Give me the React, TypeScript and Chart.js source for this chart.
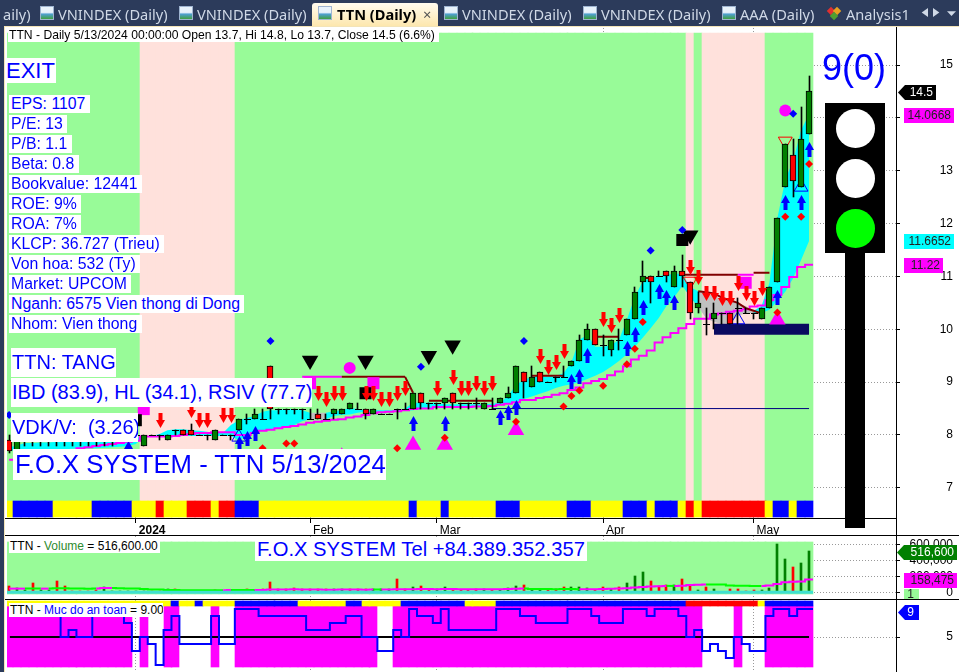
import React, { useEffect, useRef } from "react";
import { Chart, registerables } from "chart.js";

Chart.register(...registerables);

// ---------- data ----------
const opens = [
  7.9, 7.7, 7.9, 7.9, 7.9, 7.9, 7.9, 7.9, 7.9, 7.9,
  7.9, 7.9, 7.9, 7.9, 8.0, 8.0, 8.0, 7.8, 8.0, 8.0,
  7.9, 8.1, 8.1, 8.1, 8.0, 8.0, 7.9, 8.0, 8.0, 8.1,
  8.3, 8.3, 8.3, 9.3, 8.5, 8.5, 8.5, 8.5, 8.3, 8.4,
  8.3, 8.4, 8.4, 8.5, 8.5, 8.5, 8.4, 8.4, 8.4, 8.5,
  8.5, 8.5, 8.8, 8.6, 8.6, 8.6, 8.8, 8.6, 8.6, 8.6,
  8.5, 8.5, 8.6, 8.7, 8.8, 9.2, 8.9, 9.2, 9.0, 9.1,
  9.1, 9.3, 9.4, 9.8, 10.0, 9.7, 9.6, 9.8, 9.9, 10.2,
  10.9, 11.0, 11.0, 11.1, 10.8, 11.1, 10.9, 10.4, 10.1, 10.2,
  10.3, 10.3, 10.4, 10.3, 10.3, 10.2, 10.4, 10.9, 12.7, 13.3,
  12.7, 13.7,
];
const closes = [
  7.7, 7.9, 7.9, 7.9, 7.9, 7.9, 7.9, 7.9, 7.9, 7.9,
  7.9, 7.9, 7.9, 7.9, 8.0, 8.0, 8.0, 8.0, 8.0, 8.0,
  8.0, 8.1, 8.0, 8.0, 8.0, 8.0, 8.1, 8.0, 8.0, 8.3,
  8.3, 8.4, 8.3, 8.5, 8.5, 8.5, 8.5, 8.5, 8.3, 8.3,
  8.3, 8.5, 8.5, 8.6, 8.5, 8.4, 8.5, 8.4, 8.4, 8.5,
  8.5, 8.8, 8.6, 8.6, 8.6, 8.7, 8.6, 8.6, 8.6, 8.6,
  8.6, 8.5, 8.7, 8.8, 9.3, 9.0, 9.1, 9.0, 9.0, 9.1,
  9.1, 9.4, 9.8, 10.0, 9.7, 9.7, 9.8, 9.8, 10.2, 10.7,
  11.0, 10.9, 11.0, 11.0, 11.1, 11.0, 10.3, 10.5, 10.1, 10.3,
  10.3, 10.1, 10.4, 10.3, 10.3, 10.4, 10.8, 12.1, 13.5, 12.8,
  13.6, 14.5,
];
const highs = [
  8.0, 7.9, 7.9, 7.9, 7.9, 7.9, 7.9, 7.9, 7.9, 7.9,
  7.9, 7.9, 7.9, 7.9, 8.0, 8.0, 8.0, 8.0, 8.0, 8.0,
  8.0, 8.1, 8.1, 8.2, 8.0, 8.0, 8.1, 8.0, 8.0, 8.3,
  8.4, 8.5, 8.5, 9.3, 8.5, 8.5, 8.5, 8.5, 8.5, 8.5,
  8.4, 8.5, 8.5, 8.6, 8.6, 8.5, 8.5, 8.4, 8.4, 8.5,
  8.6, 8.8, 8.8, 8.6, 8.6, 8.7, 8.8, 8.6, 8.6, 8.7,
  8.6, 8.7, 8.7, 8.9, 9.3, 9.2, 9.3, 9.2, 9.0, 9.1,
  9.3, 9.4, 9.9, 10.1, 10.0, 9.9, 9.8, 10.0, 10.2, 10.8,
  11.3, 11.0, 11.1, 11.1, 11.2, 11.4, 10.9, 10.7, 10.4, 10.5,
  10.3, 10.3, 10.6, 10.4, 10.3, 10.4, 10.8, 12.1, 13.5, 13.6,
  14.2, 14.8,
];
const lows = [
  7.65, 7.7, 7.8, 7.8, 7.8, 7.8, 7.8, 7.8, 7.8, 7.8,
  7.8, 7.8, 7.8, 7.8, 7.9, 7.9, 7.9, 7.8, 8.0, 7.9,
  7.9, 8.0, 8.0, 8.0, 8.0, 7.9, 7.9, 8.0, 7.9, 8.1,
  8.2, 8.3, 8.3, 8.3, 8.4, 8.4, 8.4, 8.3, 8.3, 8.3,
  8.3, 8.3, 8.4, 8.5, 8.5, 8.3, 8.4, 8.4, 8.4, 8.3,
  8.5, 8.5, 8.5, 8.5, 8.5, 8.5, 8.5, 8.5, 8.5, 8.5,
  8.5, 8.5, 8.6, 8.7, 8.8, 8.7, 8.9, 9.0, 9.0, 9.0,
  9.1, 9.3, 9.4, 9.8, 9.7, 9.5, 9.5, 9.6, 9.9, 10.2,
  10.7, 10.5, 11.0, 10.9, 10.8, 10.8, 10.2, 10.3, 9.9, 10.0,
  10.1, 10.1, 10.1, 10.3, 10.2, 10.2, 10.4, 10.9, 12.7, 12.5,
  12.7, 13.7,
];
const cloudTop = [
  7.77, 7.8, 7.85, 7.85, 7.86, 7.86, 7.87, 7.87, 7.89, 7.89,
  7.89, 7.9, 7.9, 7.9, 7.91, 7.91, 7.94, 7.98, 7.98, 8.02,
  8.09, 8.11, 8.11, 8.09, 8.08, 8.06, 8.04, 8.04, 8.19, 8.28,
  8.32, 8.36, 8.44, 8.47, 8.47, 8.49, 8.49, 8.47, 8.42, 8.42,
  8.42, 8.45, 8.47, 8.51, 8.49, 8.47, 8.47, 8.47, 8.47, 8.47,
  8.5, 8.61, 8.61, 8.61, 8.61, 8.58, 8.58, 8.58, 8.58, 8.58,
  8.58, 8.59, 8.61, 8.74, 8.95, 9.04, 9.1, 9.1, 9.1, 9.12,
  9.17, 9.38, 9.8, 9.89, 9.67, 9.67, 9.7, 9.8, 10.18, 10.61,
  10.91, 10.97, 11.01, 11.03, 11.05, 11.05, 10.8, 10.72, 10.69, 10.63,
  10.57, 10.54, 10.48, 10.44, 10.35, 10.44, 10.88, 12.1, 12.83, 13.2,
  13.77, 14.07,
];
const cloudBottom = [
  7.7, 7.71, 7.72, 7.72, 7.72, 7.73, 7.73, 7.73, 7.74, 7.74,
  7.75, 7.75, 7.76, 7.77, 7.78, 7.79, 7.83, 7.96, 7.96, 7.96,
  7.96, 7.97, 7.98, 7.98, 7.98, 7.98, 7.98, 7.98, 7.98, 7.9,
  7.98, 8.04, 8.08, 8.11, 8.13, 8.15, 8.19, 8.26, 8.3, 8.3,
  8.3, 8.36, 8.38, 8.39, 8.42, 8.44, 8.44, 8.44, 8.44, 8.45,
  8.46, 8.47, 8.49, 8.51, 8.52, 8.53, 8.53, 8.53, 8.53, 8.53,
  8.53, 8.53, 8.57, 8.59, 8.62, 8.68, 8.73, 8.78, 8.83, 8.89,
  8.93, 8.96, 9.0, 9.06, 9.12, 9.19, 9.29, 9.4, 9.53, 9.67,
  9.84, 10.02, 10.21, 10.44, 10.61, 10.82, 10.61, 10.42, 10.21, 10.14,
  10.1, 10.12, 10.25, 10.31, 10.31, 10.31, 10.37, 10.54, 10.71, 10.97,
  11.31, 11.67,
];
const trendStop = [
  7.53, 7.53, 7.53, 7.55, 7.58, 7.6, 7.62, 7.65, 7.68, 7.75,
  7.77, 7.79, 7.81, 7.83, 7.85, 7.87, 7.89, 7.97, 7.97, 7.97,
  7.97, 7.98, 8.0, 8.02, 8.04, 8.04, 8.05, 8.05, 8.05, 8.0,
  8.0, 8.04, 8.08, 8.1, 8.13, 8.15, 8.17, 8.2, 8.23, 8.25,
  8.27, 8.29, 8.3, 8.33, 8.35, 8.38, 8.41, 8.43, 8.44, 8.45,
  8.47, 8.49, 8.5, 8.5, 8.53, 8.53, 8.53, 8.53, 8.53, 8.54,
  8.54, 8.55, 8.57, 8.59, 8.62, 8.66, 8.66, 8.7, 8.72, 8.76,
  8.79, 8.85, 8.9, 8.98, 9.02, 9.06, 9.13, 9.2, 9.3, 9.43,
  9.5, 9.6, 9.75, 9.85, 9.93, 10.02, 10.1, 10.2, 10.2, 10.28,
  10.3, 10.33, 10.35, 10.38, 10.43, 10.45, 10.55, 10.65, 10.8, 10.99,
  11.18, 11.22,
];
const volumes = [
  75000, 50000, 29000, 120000, 29000, 29000, 142000, 75000, 21000, 17000,
  17000, 25000, 62000, 21000, 21000, 17000, 17000, 17000, 17000, 17000,
  45000, 42000, 21000, 17000, 12000, 21000, 25000, 17000, 29000, 33000,
  42000, 25000, 42000, 129000, 37000, 37000, 54000, 42000, 42000, 37000,
  37000, 37000, 37000, 37000, 42000, 42000, 37000, 37000, 46000, 167000,
  46000, 62000, 75000, 37000, 37000, 71000, 37000, 29000, 29000, 37000,
  37000, 29000, 29000, 50000, 79000, 87000, 37000, 30000, 37000, 37000,
  71000, 67000, 62000, 50000, 29000, 71000, 46000, 62000, 117000, 204000,
  254000, 142000, 79000, 87000, 87000, 162000, 87000, 25000, 67000, 37000,
  5000, 37000, 37000, 12000, 25000, 29000, 50000, 604000, 417000, 312000,
  367000, 516600,
];
const volumeAverage = [
  46000, 46000, 46000, 48000, 46000, 46000, 50000, 52000, 48000, 46000,
  44000, 46000, 54000, 54000, 50000, 48000, 46000, 40000, 36000, 34000,
  30000, 28000, 26000, 25000, 25000, 25000, 25000, 27000, 29000, 28000,
  30000, 28000, 30000, 36000, 36000, 36000, 38000, 36000, 34000, 34000,
  32000, 32000, 34000, 34000, 34000, 33000, 36000, 34000, 34000, 38000,
  38000, 38000, 40000, 40000, 38000, 42000, 40000, 38000, 38000, 38000,
  38000, 38000, 38000, 40000, 44000, 46000, 42000, 42000, 40000, 38000,
  42000, 40000, 38000, 38000, 38000, 42000, 44000, 46000, 52000, 60000,
  65000, 72000, 75000, 80000, 80000, 82000, 90000, 95000, 96000, 96000,
  96000, 84000, 83000, 83000, 80000, 80000, 85000, 105000, 125000, 133000,
  135000, 158475,
];
const volumeUp = [
  0, 1, 1, 0, 1, 1, 0, 0, 0, 0,
  0, 0, 1, 1, 1, 1, 1, 1, 0, 0,
  1, 0, 0, 1, 1, 0, 0, 0, 0, 1,
  0, 1, 0, 0, 0, 0, 0, 0, 0, 0,
  0, 1, 1, 0, 0, 0, 1, 1, 1, 0,
  0, 1, 0, 0, 1, 1, 0, 0, 0, 0,
  1, 0, 1, 1, 1, 0, 1, 1, 0, 0,
  0, 1, 1, 1, 0, 0, 1, 0, 1, 1,
  1, 0, 0, 0, 1, 0, 0, 1, 0, 1,
  1, 0, 0, 0, 0, 1, 1, 1, 1, 0,
  1, 1,
];
const safetyLevel = [
  9, 8, 8, 8, 8, 8, 8, 5, 6, 5,
  5, 8, 8, 8, 8, 7, 3, 5, 4, 1,
  6, 8, 4, 4, 4, 4, 8, 4, 4, 9,
  9, 9, 8, 8, 8, 8, 8, 8, 6, 6,
  6, 7, 7, 8, 8, 5, 5, 3, 3, 6,
  5, 9, 8, 8, 7, 9, 6, 6, 6, 6,
  6, 6, 9, 9, 9, 8, 8, 7, 7, 7,
  7, 9, 9, 9, 8, 7, 7, 7, 9, 9,
  9, 8, 9, 9, 9, 8, 5, 6, 3, 4,
  3, 2, 5, 4, 3, 3, 8, 9, 9, 8,
  9, 9,
];

// runs of per-bar states: [state, number of bars]
const backgroundRuns = [["G", 17], ["P", 12], ["G", 57], ["P", 1], ["G", 1], ["P", 8], ["G", 6]];
const priceRibbonRuns = [
  ["Y", 1], ["B", 5], ["Y", 5], ["B", 5], ["Y", 3], ["R", 1], ["Y", 3], ["R", 3], ["Y", 1], ["R", 2], ["B", 3],
  ["Y", 19], ["B", 1], ["Y", 3], ["B", 1], ["Y", 6], ["B", 3], ["Y", 6], ["B", 3], ["Y", 4], ["B", 3], ["Y", 1],
  ["B", 3], ["Y", 1], ["R", 1], ["Y", 1], ["R", 8], ["Y", 1], ["B", 2], ["Y", 1], ["B", 2],
];
const safetyRibbonRuns = [
  ["Y", 21], ["B", 1], ["Y", 2], ["B", 1], ["Y", 4], ["B", 8], ["Y", 6], ["B", 2], ["Y", 5], ["B", 8], ["Y", 4],
  ["B", 24], ["R", 9], ["Y", 1], ["B", 6],
];
const cloudRuns = [
  ["C", 28], ["G", 1], ["C", 9], ["G", 3], ["C", 46], ["G", 8], ["C", 7],
];
const volumeAverageRuns = [
  ["M", 3], ["L", 2], ["M", 1], ["L", 6], ["M", 2], ["L", 14], ["M", 1], ["L", 3], ["M", 15], ["L", 1],
  ["M", 18], ["L", 7], ["M", 11], ["L", 1], ["M", 4], ["L", 7], ["M", 6],
];

// markers: bar index + price
const upArrowBars = [15, 29, 30, 31, 51, 55, 62, 63, 64, 71, 72, 73, 78, 79, 80, 82, 83, 84, 97, 98, 100, 101];
const upArrowPrices = [7.75, 7.85, 7.94, 8.04, 8.23, 8.23, 8.34, 8.44, 8.53, 9.03, 9.12, 9.51, 9.65, 9.91, 10.43, 10.73, 10.62, 10.52, 10.62, 12.4, 12.4, 13.41];
const downArrowBars = [19, 23, 24, 25, 27, 28, 39, 40, 41, 42, 45, 46, 47, 48, 49, 50, 54, 56, 57, 58, 59, 60, 61, 67, 68, 69, 70, 75, 76, 77, 86, 87, 88, 89, 90, 91, 92, 93, 94, 95];
const downArrowPrices = [8.28, 8.47, 8.28, 8.28, 8.38, 8.38, 8.79, 8.68, 8.79, 8.79, 8.79, 8.79, 8.68, 8.68, 8.79, 8.88, 8.88, 9.09, 8.88, 8.88, 8.98, 8.88, 8.98, 9.49, 9.28, 9.38, 9.59, 10.19, 10.08, 10.28, 11.18, 10.99, 10.68, 10.68, 10.59, 10.59, 10.88, 10.68, 10.59, 10.78];
const blackTriangleBars = [38, 45, 53, 56, 86];
const blackTrianglePrices = [9.41, 9.41, 9.5, 9.7, 11.78];
const magentaTriangleBars = [8, 21, 26, 42, 51, 55, 64, 97];
const magentaTrianglePrices = [7.25, 7.25, 7.25, 7.59, 7.81, 7.81, 8.09, 10.18];
const magentaCircleBars = [43, 98];
const magentaCirclePrices = [9.27, 14.14];
const magentaSquareBars = [17, 38, 46, 93];
const magentaSquarePrices = [8.49, 8.98, 8.98, 10.88];
const blackSquareBars = [16, 45, 85];
const blackSquarePrices = [8.28, 8.79, 11.69];
const redOutlineBars = [86, 98];
const redOutlinePrices = [10.91, 13.56];
const blueOutlineBars = [29, 92, 100];
const blueOutlinePrices = [7.96, 10.18, 12.69];
const redDotBars = [32, 35, 36, 49, 55, 64, 70, 71, 72, 75, 78, 79, 80, 97, 98, 100, 101];
const redDotPrices = [7.75, 7.84, 7.84, 7.75, 7.95, 8.25, 8.54, 8.74, 8.84, 8.93, 9.34, 9.63, 10.14, 10.32, 12.13, 12.13, 13.13];
const blueDotBars = [0, 33, 52, 65, 81, 85, 99];
const blueDotPrices = [8.38, 9.78, 9.29, 9.78, 11.49, 11.88, 14.08];

// level segments: first bar, last bar, price
const maroonLevels = [
  [42, 50, 9.1], [53, 61, 8.65], [66, 70, 9.12], [74, 77, 9.86], [80, 81, 10.97], [85, 92, 11.03], [94, 96, 11.07],
];
const magentaLevels = [
  [37, 42, 9.1], [92, 94, 11.03],
];
const fallingBars = [50, 51];
const fallingPrices = [9.1, 8.8];
const slopeBars = [87, 88, 89, 90, 91, 92, 93, 94, 95];
const slopePrices = [10.72, 10.7, 10.68, 10.6, 10.55, 10.5, 10.4, 10.35, 10.3];
const shortDashBars = [21.5, 26.5];
const shortDashPrices = [9.08, 9.08];
const supportBars = [61, 101];
const supportPrices = [8.5, 8.5];
const zoneBars = [89, 101];
const zonePrices = [10, 10];

const monthTickBars = [16, 38, 54, 75, 94];
const monthTickLabels = ["2024", "Feb", "Mar", "Apr", "May"];
const priceTicks = [7, 8, 9, 10, 11, 12, 13, 14, 15];
const volumeTicks = [0, 200000, 400000, 600000];
const safetyTicks = [5];

const fundamentals = [
  "EPS: 1107", "P/E: 13", "P/B: 1.1", "Beta: 0.8", "Bookvalue: 12441", "ROE: 9%", "ROA: 7%",
  "KLCP: 36.727 (Trieu)", "Von hoa: 532 (Ty)", "Market: UPCOM", "Nganh: 6575 Vien thong di Dong", "Nhom: Vien thong",
];

// ---------- style ----------
const FONT = '"Liberation Sans", Arial, sans-serif';
const STATE_COLORS = { G: "#98FB98", P: "#FFE1DC", Y: "#FFFF00", B: "#0000FF", R: "#FF0000" };
const CANDLE_GREEN = "#008000";
const expand = (runs) => runs.flatMap(([v, n]) => Array(n).fill(v));
const xMin = -0.2677;
const xMax = 111.98;
const noPadding = (s) => {
  s.paddingTop = 0;
  s.paddingBottom = 0;
  s.paddingLeft = 0;
  s.paddingRight = 0;
};

const snapPlugin = {
  id: "snap",
  afterDatasetsUpdate(chart) {
    chart.data.datasets.forEach((ds, i) => {
      const meta = chart.getDatasetMeta(i);
      if (ds.snapW) {
        meta.data.forEach((b) => {
          const w = Math.round(ds.snapW);
          const l = Math.round(b.x - ds.snapW / 2);
          b.x = l + w / 2;
          b.width = w;
          b.y = Math.round(b.y);
          b.base = Math.round(b.base);
        });
      }
      if (ds.snapPoint) {
        meta.data.forEach((p) => {
          p.x = Math.round(p.x) + 0.5;
          p.y = Math.round(p.y) + 0.5;
        });
      }
    });
  },
};

const rangeBars = (xs, ys, colors, w, yAxisID = "y", extra = {}) => ({
  type: "bar",
  data: xs.map((x, i) => ({ x, y: ys[i] })),
  backgroundColor: colors,
  snapW: w,
  yAxisID,
  grouped: false,
  categoryPercentage: 1,
  barPercentage: 1,
  borderWidth: 0,
  borderSkipped: false,
  ...extra,
});
const markers = (xs, ys, pointStyle, pointRadius, color, extra = {}) => ({
  type: "line",
  showLine: false,
  data: xs.map((x, i) => ({ x, y: ys[i] })),
  pointStyle,
  pointRadius,
  pointBackgroundColor: color,
  pointBorderColor: color,
  pointBorderWidth: 0,
  snapPoint: true,
  ...extra,
});
const line = (xs, ys, color, borderWidth, extra = {}) => ({
  type: "line",
  data: xs.map((x, i) => ({ x, y: ys[i] })),
  borderColor: color,
  borderWidth,
  pointRadius: 0,
  fill: false,
  ...extra,
});
const levelData = (levels) =>
  levels.flatMap(([a, b, p]) => [{ x: a, y: p }, { x: b, y: p }, { x: b + 0.01, y: null }]);

const arrowSprite = (color, up) => {
  const c = document.createElement("canvas");
  c.width = 9;
  c.height = 15;
  const g = c.getContext("2d");
  g.fillStyle = color;
  const shape = [[4.5, 0], [9, 8], [6.5, 8], [6.5, 15], [2.5, 15], [2.5, 8], [0, 8]];
  g.beginPath();
  shape.forEach(([x, y], i) => {
    const yy = up ? y : 15 - y;
    if (i === 0) g.moveTo(x, yy);
    else g.lineTo(x, yy);
  });
  g.closePath();
  g.fill();
  return c;
};

const sharedXAxis = (showLabels) => ({
  type: "linear",
  min: xMin,
  max: xMax,
  offset: false,
  afterBuildTicks: (s) => {
    s.ticks = monthTickBars.map((value) => ({ value }));
  },
  afterFit: (s) => {
    s.height = showLabels ? 17 : 0;
    noPadding(s);
  },
  grid: {
    display: true,
    offset: false,
    color: "#999999",
    drawTicks: showLabels,
    tickLength: 5,
    tickColor: "#000000",
    tickBorderDash: [],
  },
  border: { display: showLabels, color: "#000000", dash: [1, 2] },
  ticks: showLabels
    ? {
        display: true,
        autoSkip: false,
        maxRotation: 0,
        minRotation: 0,
        align: "start",
        labelOffset: 3,
        padding: 0,
        color: "#000000",
        font: (c) => ({
          family: FONT,
          size: 12,
          weight: c.tick && c.tick.value === monthTickBars[0] ? "bold" : "normal",
        }),
        callback: (v) => monthTickLabels[monthTickBars.indexOf(v)] ?? "",
      }
    : { display: false },
});
const valueAxis = (min, max, values, format) => ({
  type: "linear",
  position: "right",
  min,
  max,
  afterBuildTicks: (s) => {
    s.ticks = values.map((value) => ({ value }));
  },
  afterFit: (s) => {
    s.width = 57;
    noPadding(s);
  },
  grid: {
    color: "#999999",
    tickColor: "#000000",
    tickLength: 4,
    tickBorderDash: [],
  },
  border: { color: "#000000", dash: [1, 2] },
  ticks: {
    color: "#000000",
    crossAlign: "far",
    padding: 0,
    autoSkip: false,
    font: { family: FONT, size: 12 },
    callback: format,
  },
});
const hiddenAxis = (min, max) => ({
  type: "linear",
  display: false,
  min,
  max,
  ticks: { display: false },
  afterFit: noPadding,
});

const ordered = (list) => list.map((d, i) => ({ ...d, order: list.length - i }));

const baseOptions = (scales, padding) => ({
  responsive: false,
  animation: false,
  events: [],
  layout: { padding, autoPadding: false },
  plugins: { legend: { display: false }, tooltip: { enabled: false } },
  scales,
});

function priceConfig() {
  const bars = closes.map((_, i) => i);
  const background = expand(backgroundRuns);
  const ribbon = expand(priceRibbonRuns);
  const cloud = expand(cloudRuns);
  const isCloud = (i) => cloud[i] === "C" || cloud[i - 1] === "C" || cloud[i + 1] === "C";
  const bodyBars = bars.filter((i) => opens[i] !== closes[i]);
  const dojiBars = bars.filter((i) => opens[i] === closes[i]);
  const upArrow = arrowSprite("#0000FF", true);
  const downArrow = arrowSprite("#FF0000", false);

  const datasets = ordered([
    rangeBars(bars, bars.map(() => [17, 485]), background.map((s) => STATE_COLORS[s]), 7.92, "band"),
    rangeBars(bars, bars.map(() => [1, 17]), ribbon.map((s) => STATE_COLORS[s]), 7.92, "band"),
    line(bars, cloudTop.map((v, i) => (isCloud(i) ? v : null)), "transparent", 0, { fill: { target: "+1" }, backgroundColor: "#00FFFF" }),
    line(bars, cloudBottom.map((v, i) => (isCloud(i) ? v : null)), "transparent", 0),
    line(bars, cloudTop.map((v, i) => (cloud[i] === "G" ? v : null)), "transparent", 0, { fill: { target: "+1" }, backgroundColor: "#C0C0C0" }),
    line(bars, cloudBottom.map((v, i) => (cloud[i] === "G" ? v : null)), "transparent", 0),
    line([...bars, 101.5], [...trendStop, trendStop[101]], "#FF00FF", 2, { stepped: "middle" }),
    { ...line([], [], "#FF00FF", 2), data: levelData(magentaLevels) },
    { ...line([], [], "#800000", 2), data: levelData(maroonLevels) },
    line(fallingBars, fallingPrices, "#800000", 2),
    line(slopeBars, slopePrices, "#800000", 2),
    line(supportBars, supportPrices, "#000080", 1),
    line(zoneBars, zonePrices, "#0A0A60", 11, { borderCapStyle: "butt" }),
    markers(shortDashBars, shortDashPrices, "line", 7, "#000000", { pointBorderWidth: 1 }),
    markers(magentaSquareBars, magentaSquarePrices, "rect", 8.5, "#FF00FF", { snapPoint: false }),
    markers(blackSquareBars, blackSquarePrices, "rect", 8.5, "#000000", { snapPoint: false }),
    markers(magentaTriangleBars, magentaTrianglePrices, "triangle", 9.5, "#FF00FF", { snapPoint: false }),
    markers(blackTriangleBars, blackTrianglePrices, "triangle", 9.5, "#000000", { snapPoint: false, pointRotation: 180 }),
    markers(redOutlineBars, redOutlinePrices, "triangle", 8, "transparent", { snapPoint: false, pointRotation: 180, pointBorderColor: "#FF0000", pointBorderWidth: 1 }),
    markers(blueOutlineBars, blueOutlinePrices, "triangle", 8, "transparent", { snapPoint: false, pointBorderColor: "#0000FF", pointBorderWidth: 1 }),
    rangeBars(bars, bars.map((i) => [lows[i], highs[i]]), "#000000", 1),
    rangeBars(
      bodyBars,
      bodyBars.map((i) => [opens[i], closes[i]]),
      bodyBars.map((i) => (closes[i] > opens[i] ? CANDLE_GREEN : "#FF0000")),
      6,
      "y",
      { borderWidth: 1, borderColor: "#000000" },
    ),
    markers(dojiBars, dojiBars.map((i) => closes[i]), "line", 3.5, "#000000", { pointBorderWidth: 1 }),
    markers(magentaCircleBars, magentaCirclePrices, "circle", 6, "#FF00FF", { snapPoint: false }),
    markers(upArrowBars, upArrowPrices, upArrow, 8, "#0000FF"),
    markers(downArrowBars, downArrowPrices, downArrow, 8, "#FF0000"),
    markers(redDotBars, redDotPrices, "rectRot", 4, "#FF0000", { snapPoint: false }),
    markers(blueDotBars, blueDotPrices, "rectRot", 4, "#0000FF", { snapPoint: false }),
  ]);

  return {
    type: "bar",
    data: { datasets },
    options: baseOptions(
      {
        x: sharedXAxis(true),
        y: valueAxis(6.4295, 15.701, priceTicks, (v) => String(v)),
        band: hiddenAxis(0, 490),
      },
      { left: 7, top: 1, right: 6, bottom: 0 },
    ),
    plugins: [snapPlugin],
  };
}

function volumeConfig() {
  const bars = closes.map((_, i) => i);
  const averageColor = expand(volumeAverageRuns);
  const datasets = ordered([
    rangeBars(bars, bars.map(() => [-21250, 628750]), STATE_COLORS.G, 7.92, "y"),
    rangeBars(bars, volumes.map((v) => [0, v]), volumeUp.map((u) => (u ? CANDLE_GREEN : "#FF0000")), 2),
    line([...bars, 101.5], [...volumeAverage, volumeAverage[101]], "#FF00FF", 2, {
      stepped: "middle",
      segment: {
        borderColor: (c) => (averageColor[c.p1DataIndex] === "L" ? "#00FF00" : "#FF00FF"),
      },
    }),
    line([xMin, 101.5], [0, 0], "#40E0D0", 3),
  ]);
  return {
    type: "bar",
    data: { datasets },
    options: baseOptions(
      {
        x: sharedXAxis(false),
        y: valueAxis(-83750, 703750, volumeTicks, (v) => Number(v).toLocaleString("en-US")),
      },
      { left: 7, top: 0, right: 6, bottom: 0 },
    ),
    plugins: [snapPlugin],
  };
}

function safetyConfig() {
  const bars = closes.map((_, i) => i);
  const ribbon = expand(safetyRibbonRuns);
  const safeBars = bars.filter((i) => safetyLevel[i] >= 5);
  const datasets = ordered([
    rangeBars(safeBars, safeBars.map(() => [0.71, 9.43]), "#FF00FF", 7.92),
    rangeBars(bars, bars.map(() => [9.43, 10.14]), ribbon.map((s) => STATE_COLORS[s]), 7.92),
    line([0.1, 101], [5, 5], "#000000", 2),
    line([...bars, 101.5], [...safetyLevel, safetyLevel[101]], "#0000FF", 2, { stepped: "middle" }),
  ]);
  return {
    type: "bar",
    data: { datasets },
    options: baseOptions(
      {
        x: sharedXAxis(false),
        y: valueAxis(0, 10.286, safetyTicks, (v) => String(v)),
      },
      { left: 7, top: 0, right: 6, bottom: 0 },
    ),
    plugins: [snapPlugin],
  };
}

// ---------- small page pieces ----------
const Box = ({ x, y, w, h, bg = "#fff", children = null, style = {} }) => (
  <div
    style={{
      position: "absolute",
      left: x,
      top: y,
      width: w,
      height: h,
      background: bg,
      overflow: "hidden",
      whiteSpace: "pre",
      ...style,
    }}
  >
    {children}
  </div>
);
const BlueLabel = ({ x, y, w, h, size, text, pad = 1 }) => (
  <Box
    x={x}
    y={y}
    w={w}
    h={h}
    style={{
      color: "#0000FF",
      fontFamily: FONT,
      fontSize: size,
      lineHeight: `${h}px`,
      paddingLeft: pad,
      boxSizing: "border-box",
    }}
  >
    {text}
  </Box>
);
const Tag = ({ x, y, w, h, bg, color, text, arrow = false, pad = 3 }) => (
  <Box
    x={x}
    y={y}
    w={w}
    h={h}
    bg={bg}
    style={{
      color,
      fontFamily: FONT,
      fontSize: 12,
      lineHeight: `${h}px`,
      textAlign: "right",
      paddingRight: pad,
      boxSizing: "border-box",
      clipPath: arrow
        ? `polygon(0 50%, 7px 0, 100% 0, 100% 100%, 7px 100%)`
        : undefined,
    }}
  >
    {text}
  </Box>
);
const TabIcon = ({ x }) => (
  <div
    style={{
      position: "absolute",
      left: x,
      top: 6,
      width: 14,
      height: 14,
      boxSizing: "border-box",
      border: "1px solid #9fb4d0",
      background: "linear-gradient(#e8f2fb 45%, #4f9fd0 60%, #3fa03f 100%)",
    }}
  />
);
const TabText = ({ x, text, bold = false, color = "#cfd8e6" }) => (
  <div
    style={{
      position: "absolute",
      left: x,
      top: 4,
      height: 20,
      lineHeight: "20px",
      color,
      fontFamily: '"Noto Sans", sans-serif',
      fontSize: 14.6,
      fontWeight: bold ? 700 : 400,
      whiteSpace: "nowrap",
    }}
  >
    {text}
  </div>
);
const Nav = ({ x, points }) => (
  <div
    style={{
      position: "absolute",
      left: x,
      top: 8,
      width: 9,
      height: 9,
      background: "#cfd8e6",
      clipPath: `polygon(${points})`,
    }}
  />
);
const Lamp = ({ y, color }) => (
  <div
    style={{
      position: "absolute",
      left: 836,
      top: y - 19.5,
      width: 39,
      height: 39,
      borderRadius: "50%",
      background: color,
    }}
  />
);
const Rule = ({ x, y, w, h }) => <Box x={x} y={y} w={w} h={h} bg="#000" />;

export default function App() {
  const priceRef = useRef(null);
  const volumeRef = useRef(null);
  const safetyRef = useRef(null);

  useEffect(() => {
    document.body.style.margin = "0";
    document.body.style.background = "#ffffff";
    const charts = [
      new Chart(priceRef.current, priceConfig()),
      new Chart(volumeRef.current, volumeConfig()),
      new Chart(safetyRef.current, safetyConfig()),
    ];
    return () => charts.forEach((c) => c.destroy());
  }, []);

  const canvasStyle = { position: "absolute", left: 0, display: "block" };

  return (
    <div
      style={{
        position: "fixed",
        left: 0,
        top: 0,
        width: 959,
        height: 672,
        overflow: "hidden",
        background: "#fff",
      }}
    >
      <canvas ref={priceRef} width={959} height={508} style={{ ...canvasStyle, top: 27 }} />
      <canvas ref={volumeRef} width={959} height={63} style={{ ...canvasStyle, top: 536 }} />
      <canvas ref={safetyRef} width={959} height={72} style={{ ...canvasStyle, top: 600 }} />

      {/* frame */}
      <Box x={0} y={0} w={959} h={26} bg="#2C3B5B" />
      <Box x={0} y={26} w={959} h={1} bg="#F3E4B8" />
      <Box x={0} y={0} w={4} h={672} bg="#2C3B5B" />
      <Box x={4} y={26} w={1} h={646} bg="#F3E4B8" />
      <Rule x={5} y={535} w={954} h={1} />
      <Rule x={5} y={599} w={954} h={1} />
      <Rule x={5} y={518} w={891} h={1} />
      <Rule x={896} y={27} w={1} h={645} />

      {/* tabs */}
      <TabText x={3} text="aily)" />
      <TabIcon x={40} />
      <TabText x={58} text="VNINDEX (Daily)" />
      <TabIcon x={179} />
      <TabText x={197} text="VNINDEX (Daily)" />
      <Box
        x={312}
        y={3}
        w={126}
        h={23}
        bg="linear-gradient(#FFFBEF, #FDE7AE)"
        style={{ borderRadius: "3px 3px 0 0" }}
      />
      <TabIcon x={318} />
      <TabText x={337} text="TTN (Daily)" bold color="#000000" />
      <TabText x={423} text="×" color="#555555" />
      <TabIcon x={444} />
      <TabText x={462} text="VNINDEX (Daily)" />
      <TabIcon x={583} />
      <TabText x={601} text="VNINDEX (Daily)" />
      <TabIcon x={722} />
      <TabText x={740} text="AAA (Daily)" />
      <Box x={828} y={8} w={6} h={6} bg="#E03030" style={{ transform: "rotate(45deg)" }} />
      <Box x={834} y={8} w={6} h={6} bg="#E8A020" style={{ transform: "rotate(45deg)" }} />
      <Box x={831} y={13} w={6} h={6} bg="#50A030" style={{ transform: "rotate(45deg)" }} />
      <TabText x={846} text="Analysis1" />
      <Nav x={919} points="100% 0, 100% 100%, 30% 50%" />
      <Nav x={933} points="0 0, 70% 50%, 0 100%" />
      <Nav x={947} points="0 35%, 100% 35%, 50% 90%" />

      {/* price pane legend */}
      <Box
        x={8}
        y={28}
        w={431}
        h={14}
        style={{ fontFamily: FONT, fontSize: 12.15, lineHeight: "14px", paddingLeft: 1, boxSizing: "border-box" }}
      >
        TTN - Daily 5/13/2024 00:00:00 Open 13.7, Hi 14.8, Lo 13.7, Close 14.5 (6.6%)
      </Box>
      <BlueLabel x={5} y={58} w={51} h={25} size={22} text="EXIT" />
      {fundamentals.map((t, k) => (
        <BlueLabel
          key={t}
          x={9}
          y={95 + 20 * k}
          w="max-content"
          h={18}
          size={15.8}
          text={t + " "}
          pad={2}
        />
      ))}
      <BlueLabel x={11} y={348} w={105} h={29} size={20} text="TTN: TANG" />
      <BlueLabel x={11} y={378} w={301} h={29} size={20} text="IBD (83.9), HL (34.1), RSIV (77.7)" />
      <BlueLabel x={11} y={413} w={127} h={29} size={20} text="VDK/V:  (3.26)" />
      <BlueLabel x={13} y={449} w={373} h={31} size={25.7} text="F.O.X SYSTEM - TTN 5/13/2024" pad={2} />

      {/* traffic light */}
      <Box
        x={815}
        y={46}
        w={78}
        h={44}
        bg="transparent"
        style={{
          color: "#0000FF",
          fontFamily: FONT,
          fontSize: 36,
          lineHeight: "44px",
          textAlign: "center",
        }}
      >
        9(0)
      </Box>
      <Box x={825} y={103} w={60} h={150} bg="#000" />
      <Box x={845} y={253} w={20} h={275} bg="#000" />
      <Lamp y={128.7} color="#FFFFFF" />
      <Lamp y={178.7} color="#FFFFFF" />
      <Lamp y={228.7} color="#00FF00" />

      {/* price tags */}
      <Tag x={898} y={85} w={38} h={15} bg="#000" color="#fff" text="14.5" arrow />
      <Tag x={904} y={108} w={50} h={15} bg="#FF00FF" color="#222" text="14.0668" />
      <Tag x={904} y={234} w={50} h={15} bg="#00FFFF" color="#222" text="11.6652" />
      <Tag x={904} y={258} w={39} h={15} bg="#FF00FF" color="#222" text="11.22" />

      {/* volume pane */}
      <Box x={9} y={539} w={151} h={14} style={{ fontFamily: FONT, fontSize: 12, lineHeight: "14px", paddingLeft: 1, boxSizing: "border-box" }}>
        TTN - <span style={{ color: "#2E8B2E" }}>Volume</span> = 516,600.00
      </Box>
      <BlueLabel x={255} y={537} w={332} h={24} size={20.2} text="F.O.X SYSTEM Tel +84.389.352.357" pad={2} />
      <Tag x={897} y={545} w={60} h={15} bg={CANDLE_GREEN} color="#fff" text="516,600" arrow />
      <Tag x={904} y={573} w={53} h={15} bg="#FF00FF" color="#222" text="158,475" />
      <Tag x={904} y={589} w={15} h={10} bg="#98FB98" color="#222" text="1" pad={5} />

      {/* safety pane */}
      <Box x={9} y={603} w={154} h={14} style={{ fontFamily: FONT, fontSize: 12, lineHeight: "14px", paddingLeft: 1, boxSizing: "border-box" }}>
        TTN - <span style={{ color: "#0000FF" }}>Muc do an toan</span> = 9.00
      </Box>
      <Tag x={898} y={605} w={21} h={15} bg="#0000FF" color="#fff" text="9" arrow pad={5} />
    </div>
  );
}
